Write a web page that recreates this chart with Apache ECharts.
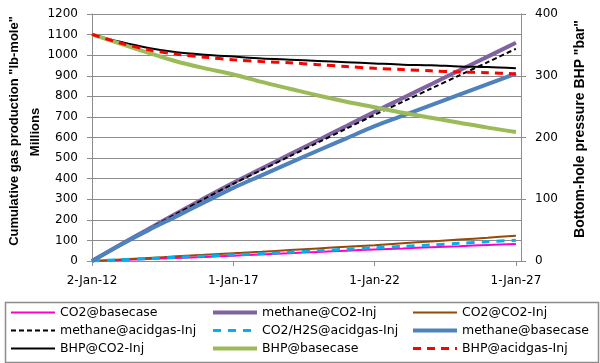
<!DOCTYPE html>
<html>
<head>
<meta charset="utf-8">
<script src="https://cdn.jsdelivr.net/npm/echarts@6/dist/echarts.min.js"></script>
<style>html,body{margin:0;padding:0;background:#fff}#c{width:600px;height:363px}</style>
</head>
<body>
<div id="c"></div>
<script>
// ---- data ----
const years = [2012,2013,2014,2015,2016,2017,2018,2019,2020,2021,2022,2023,2024,2025,2026,2027];
const xTickValues = [2012, 2017, 2022, 2027];
const xTickLabels = ['2-Jan-12', '1-Jan-17', '1-Jan-22', '1-Jan-27'];
const leftTicks = [0,100,200,300,400,500,600,700,800,900,1000,1100,1200];
const rightTicks = [0,100,200,300,400];

// left axis: cumulative gas production (millions lb-mole)
const co2Basecase      = [0,5,10,15,20,26,32,38,44,50,56,61,67,72,78,83];
const methaneCO2Inj    = [0,79,156,232,307,380,449,518,587,656,725,792,859,926,993,1060];
const co2CO2Inj        = [0,7.5,15,22.5,30,37.5,45,53,61,69,77,86,95,104,113,123];
const methaneAcidgas   = [0,79,155,230,303,375,442,509,576,643,710,774,838,902,966,1031];
const co2h2sAcidgas    = [0,6,12,18,24,30,36,43,50,57,64,71,78,86,94,101];
const methaneBasecase  = [0,78,150,218,287,355,416,477,537,596,655,706,757,808,859,910];
// right axis: bottom-hole pressure (bar)
const bhpCO2Inj        = [367,355,345,338,334,331,328,326,324,322,320,318,317,315,314,312];
const bhpBasecase      = [367,352,337,323,312,302,290,279,268,258,249,240,232,224,216,209];
const bhpAcidgas       = [367,353,342,335,330,326,323,321,318,315,312,310,308,306,305,303];

const pairs = arr => years.map((y, i) => [y, arr[i]]);

const FONT = 'DejaVu Sans';
const GRID = '#8c8c8c';

function line(name, arr, yIdx, color, width, type) {
  return {
    name, type: 'line', yAxisIndex: yIdx, data: pairs(arr),
    symbol: 'none', showSymbol: false, smooth: 0.3, animation: false,
    lineStyle: { color, width, type: type || 'solid' },
    itemStyle: { color }
  };
}

const series = [
  line('CO2@basecase', co2Basecase, 0, '#ff00cc', 2),
  line('methane@CO2-Inj', methaneCO2Inj, 0, '#8064a2', 4),
  line('CO2@CO2-Inj', co2CO2Inj, 0, '#984807', 2),
  line('methane@acidgas-Inj', methaneAcidgas, 0, '#000000', 2, [5, 3]),
  line('CO2/H2S@acidgas-Inj', co2h2sAcidgas, 0, '#00b0f0', 3, [8, 7]),
  line('methane@basecase', methaneBasecase, 0, '#4f81bd', 4),
  line('BHP@CO2-Inj', bhpCO2Inj, 1, '#000000', 2),
  line('BHP@basecase', bhpBasecase, 1, '#9bbb59', 4),
  line('BHP@acidgas-Inj', bhpAcidgas, 1, '#ff0000', 3, [8, 6])
];

const legendCols = [
  ['CO2@basecase', 'methane@acidgas-Inj', 'BHP@CO2-Inj'],
  ['methane@CO2-Inj', 'CO2/H2S@acidgas-Inj', 'BHP@basecase'],
  ['CO2@CO2-Inj', 'methane@basecase', 'BHP@acidgas-Inj']
];
const legendLefts = [10, 211, 411];
const legends = legendCols.map((d, i) => ({
  data: d, orient: 'vertical', left: legendLefts[i], top: 306, padding: 0,
  itemWidth: 44, itemHeight: 14, itemGap: 5, selectedMode: false,
  lineStyle: { width: 'inherit', type: 'inherit' },
  itemStyle: { opacity: 0, borderWidth: 0 },
  textStyle: { fontFamily: FONT, fontSize: 12.5, color: '#000' }
}));

const chart = echarts.init(document.getElementById('c'), null, { renderer: 'canvas' });
chart.setOption({
  animation: false,
  backgroundColor: '#fff',
  grid: { left: 92, right: 79, top: 14, bottom: 102 },
  xAxis: {
    type: 'value', min: 2012, max: 2027.18,
    axisLine: { show: true, lineStyle: { color: GRID } },
    axisTick: { show: true, length: 5, customValues: xTickValues, lineStyle: { color: GRID } },
    axisLabel: {
      customValues: xTickValues, margin: 14,
      fontFamily: FONT, fontSize: 12, color: '#000',
      formatter: v => xTickLabels[xTickValues.indexOf(Math.round(v))] || ''
    },
    splitLine: { show: false }
  },
  yAxis: [
    {
      type: 'value', min: leftTicks[0], max: leftTicks[leftTicks.length - 1], interval: 100,
      axisLine: { show: true, lineStyle: { color: GRID } },
      axisTick: { show: true, length: 5, lineStyle: { color: GRID } },
      axisLabel: { margin: 14, fontFamily: FONT, fontSize: 12, color: '#000', formatter: v => String(v) },
      splitLine: { show: true, lineStyle: { color: GRID, width: 1 } }
    },
    {
      type: 'value', min: rightTicks[0], max: rightTicks[rightTicks.length - 1], interval: 100,
      position: 'right',
      axisLine: { show: true, lineStyle: { color: GRID } },
      axisTick: { show: true, length: 5, lineStyle: { color: GRID } },
      axisLabel: { margin: 14, fontFamily: FONT, fontSize: 12, color: '#000', formatter: v => String(v) },
      splitLine: { show: false }
    }
  ],
  legend: legends,
  graphic: [
    { type: 'rect', left: 3, top: 300, shape: { width: 593, height: 60 },
      style: { fill: 'none', stroke: '#8c8c8c', lineWidth: 1.5 }, z: -1 },
    { type: 'text', x: 14, y: 131, rotation: Math.PI / 2,
      style: { text: 'Cumulative gas production "lb-mole"', font: 'bold 13px "Liberation Sans"', fill: '#000', align: 'center', verticalAlign: 'middle' } },
    { type: 'text', x: 35, y: 132, rotation: Math.PI / 2,
      style: { text: 'Millions', font: 'bold 13px "Liberation Sans"', fill: '#000', align: 'center', verticalAlign: 'middle' } },
    { type: 'text', x: 580, y: 129, rotation: Math.PI / 2,
      style: { text: 'Bottom-hole pressure BHP "bar"', font: 'bold 14px "Liberation Sans"', fill: '#000', align: 'center', verticalAlign: 'middle' } }
  ],
  series
});
</script>
</body>
</html>
